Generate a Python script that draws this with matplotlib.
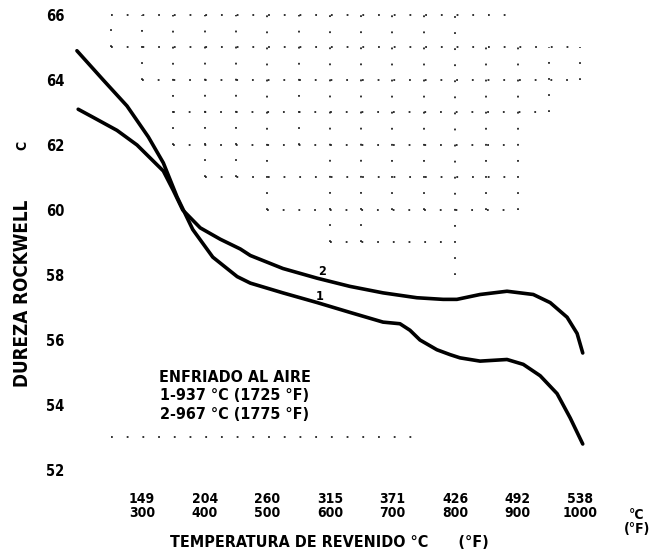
import matplotlib
matplotlib.use("Agg")
import matplotlib.pyplot as plt

# temperaturas de revenido (grados F) y dureza Rockwell C
temp1 = [196, 238, 276, 310, 334, 356, 381, 413, 452, 473, 525, 580, 632, 685,
         712, 728, 744, 771, 792, 808, 840, 883, 909, 936, 963, 984, 1004]
hrc1 = [64.9, 64.0, 63.2, 62.25, 61.45, 60.4, 59.4, 58.55, 57.95, 57.75, 57.45,
        57.15, 56.85, 56.55, 56.5, 56.3, 56.0, 55.7, 55.55, 55.45, 55.35, 55.4,
        55.25, 54.9, 54.35, 53.6, 52.8]

temp2 = [198, 222, 260, 292, 313, 334, 350, 365, 393, 425, 457, 473, 525, 580,
         632, 685, 739, 781, 803, 840, 883, 925, 952, 979, 995, 1004]
hrc2 = [63.1, 62.85, 62.45, 62.0, 61.6, 61.2, 60.6, 60.0, 59.45, 59.1, 58.8,
        58.6, 58.2, 57.9, 57.65, 57.45, 57.3, 57.25, 57.25, 57.4, 57.5, 57.4,
        57.15, 56.7, 56.2, 55.6]

xticks_f = [300, 400, 500, 600, 700, 800, 900, 1000]
xticks_c = [149, 204, 260, 315, 371, 426, 492, 538]
yticks = [52, 54, 56, 58, 60, 62, 64, 66]

# trozos visibles de la cuadricula punteada (escaneo incompleto)
grid_rows = [(66, 250, 890), (65, 250, 1000), (64, 300, 1000), (63, 350, 950),
             (62, 350, 900), (61, 400, 900), (60, 500, 900), (59, 600, 800),
             (53, 250, 750)]
grid_cols = [(250, 65, 66), (300, 64, 66), (350, 62, 66), (400, 61, 66),
             (450, 61, 66), (500, 60, 66), (550, 62, 66), (600, 59, 66),
             (650, 59, 66), (700, 60, 66), (750, 60, 66), (800, 58, 66),
             (850, 60, 65), (900, 60, 65), (950, 63, 65), (1000, 64, 65)]

font = dict(family="DejaVu Sans", stretch="condensed", weight="bold")

fig = plt.figure(figsize=(6.58, 5.58), dpi=100)
ax = fig.add_axes([0.1017, 0.1286, 0.8372, 0.862])

for h, f0, f1 in grid_rows:
    ax.plot([f0, f1], [h, h], color="#222222", lw=1.3, ls=(0, (1, 7.7)))
for f, h0, h1 in grid_cols:
    ax.plot([f, f], [h0, h1], color="#222222", lw=1.3, ls=(0, (1, 7.9)))

ax.plot(temp1, hrc1, color="black", lw=2.6, solid_capstyle="round")
ax.plot(temp2, hrc2, color="black", lw=2.6, solid_capstyle="round")
ax.text(588, 58.1, "2", ha="center", va="center", fontsize=9, **font)
ax.text(583, 57.35, "1", ha="center", va="center", fontsize=9, **font)

ax.set_xlim(180, 1060)
ax.set_ylim(51.5, 66.3)
for s in ax.spines.values():
    s.set_visible(False)

ax.set_xticks(xticks_f)
ax.set_xticklabels([f"{c}\n{f}" for c, f in zip(xticks_c, xticks_f)],
                   fontsize=10, linespacing=1.0, **font)
ax.set_yticks(yticks)
ax.set_yticklabels([str(v) for v in yticks], fontsize=10.5, **font)
ax.tick_params(length=0)
ax.tick_params(axis="x", pad=4)
ax.tick_params(axis="y", pad=2)

ax.text(1.035, -0.045, "°C\n(°F)", transform=ax.transAxes, ha="center",
        va="top", fontsize=10, linespacing=1.0, **font)
ax.text(0.477, -0.118, "TEMPERATURA DE REVENIDO °C      (°F)",
        transform=ax.transAxes, ha="center", va="center", fontsize=11.5, **font)
fig.text(0.034, 0.475, "DUREZA ROCKWELL", rotation=90, ha="center",
         va="center", fontsize=13.5, **font)
fig.text(0.034, 0.74, "C", rotation=90, ha="center", va="center",
         fontsize=10, **font)

ax.text(0.305, 0.188, "ENFRIADO AL AIRE\n1-937 °C (1725 °F)\n2-967 °C (1775 °F)",
        transform=ax.transAxes, ha="center", va="center", fontsize=11.5,
        linespacing=1.3, **font)

fig.savefig("out.png", dpi=100)
